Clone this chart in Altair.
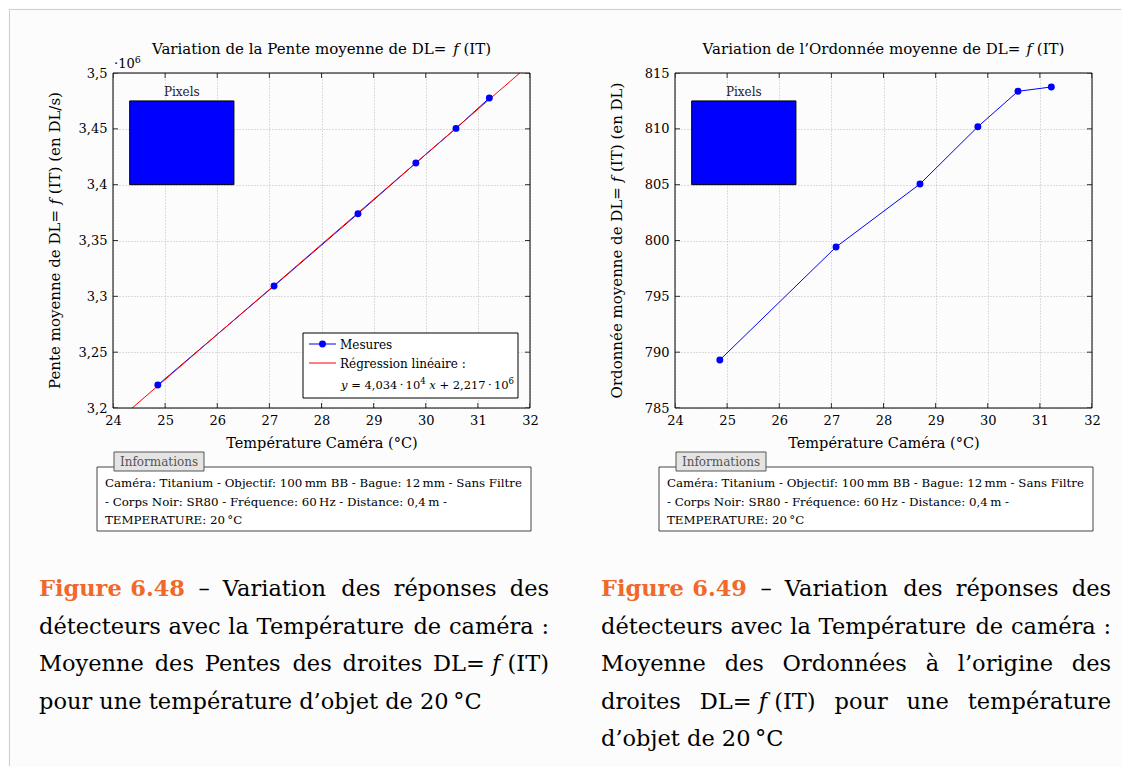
import altair as alt
import pandas as pd

FONT = "DejaVu Serif"

# ---------------- data ----------------
temperature = [24.86, 27.09, 28.70, 29.81, 30.58, 31.22]          # °C
pente = [3220600, 3309300, 3374000, 3419400, 3450400, 3477600]    # DL/s
ordonnee = [789.30, 799.42, 805.06, 810.19, 813.36, 813.75]       # DL
reg_slope = 4.034e4
reg_intercept = 2.217e6
reg_span = [24, 32]

x_ticks = [24, 25, 26, 27, 28, 29, 30, 31, 32]
pente_ticks = [3.20e6, 3.25e6, 3.30e6, 3.35e6, 3.40e6, 3.45e6, 3.50e6]
ordonnee_ticks = [785, 790, 795, 800, 805, 810, 815]

pixel_x = [24.32, 26.32]
pixel_pente = [3.400e6, 3.475e6]
pixel_ordonnee = [805.0, 812.5]

info_lines = [
    "Caméra: Titanium - Objectif: 100\u2009mm BB - Bague: 12\u2009mm - Sans Filtre",
    "- Corps Noir: SR80 - Fréquence: 60\u2009Hz - Distance: 0,4\u2009m -",
    "TEMPERATURE: 20\u2009°C",
]
# non-breaking spaces (\u00a0) join pieces that must not be stretched
caption_left = [
    "Figure\u00a06.48 – Variation des réponses des",
    "détecteurs avec la Température de caméra :",
    "Moyenne des Pentes des droites DL=\u00a0f\u00a0(IT)",
    "pour une température d’objet de 20\u2009°C",
]
caption_right = [
    "Figure\u00a06.49 – Variation des réponses des",
    "détecteurs avec la Température de caméra :",
    "Moyenne des Ordonnées à l’origine des",
    "droites DL=\u00a0f\u00a0(IT) pour une température",
    "d’objet de 20\u2009°C",
]

W, H = 417, 335
ONE = pd.DataFrame({"k": [0]})
ORANGE = "#f0692a"

# approximate advance widths of DejaVu Serif (per 1000 em), used for text layout
ADV = {" ": 318, "(": 390, ")": 390, ",": 318, "-": 338, ".": 318, ":": 337,
       "=": 838, "+": 838, "·": 318, "°": 500, "–": 500, "’": 318, "\u2009": 200,
       "/": 337}
ADV.update({d: 636 for d in "0123456789"})
ADV.update(dict(zip("ABCDEFGHIJKLMNOPQRSTUVWXYZ",
                    [722, 735, 765, 802, 730, 694, 799, 872, 395, 401, 747, 664, 1024,
                     875, 820, 673, 820, 753, 685, 667, 843, 722, 1028, 712, 660, 695])))
ADV.update(dict(zip("abcdefghijklmnopqrstuvwxyz",
                    [596, 640, 561, 640, 592, 370, 640, 644, 320, 310, 606, 320, 948,
                     644, 602, 640, 640, 478, 513, 402, 644, 565, 856, 564, 565, 530])))
ADV.update({"é": 592, "è": 592, "à": 596})


def tw(s, size, bold=False):
    w = sum(ADV.get(c, 600) for c in s) * size / 1000.0
    return w * 1.1 if bold else w


def txt(text, x, y, size=12, align="left", baseline="alphabetic", color="black",
        weight="normal", style="normal", line_height=None, angle=0):
    kw = dict(align=align, baseline=baseline, fontSize=size, color=color,
              fontWeight=weight, fontStyle=style, font=FONT)
    if line_height:
        kw["lineHeight"] = line_height
    if angle:
        kw["angle"] = angle
    return alt.Chart(ONE).mark_text(**kw).encode(
        x=alt.value(x), y=alt.value(y), text=alt.value(text))


def rich(pieces, x, y, align="left", vertical=False, baseline="alphabetic"):
    """pieces: (text, size, style, dy). Lays pieces end to end."""
    widths = [tw(t, s) for t, s, st, dy in pieces]
    total = sum(widths)
    start = -total / 2 if align == "center" else 0
    out, cum = [], start
    for (t, s, st, dy), w in zip(pieces, widths):
        lead = tw(t[:len(t) - len(t.lstrip(" "))], s)
        pos = cum + lead
        if vertical:
            out.append(txt(t.strip(" "), x, y - pos, size=s, style=st,
                           baseline="middle", angle=270))
        else:
            out.append(txt(t.strip(" "), x + pos, y + dy, size=s, style=st,
                           baseline=baseline))
        cum += w
    return out


def caption(lines, x0, y0, width=510, size=22.5, lh=37.5):
    out = []
    for i, line in enumerate(lines):
        groups = []
        for word in line.split(" "):
            subs = word.split("\u00a0")
            fig = subs[0] == "Figure"
            gap = tw(" ", size, bold=fig) * (1.0 if fig else 1.0)
            ws = [tw(s, size, bold=fig) for s in subs]
            groups.append((subs, ws, gap, fig, sum(ws) + gap * (len(subs) - 1)))
        last = i == len(lines) - 1
        total = sum(g[4] for g in groups)
        sp = tw(" ", size) if last else (width - total) / (len(groups) - 1)
        xx = x0
        y = y0 + i * lh
        for subs, ws, gap, fig, gw in groups:
            sx = xx
            for s, w in zip(subs, ws):
                if fig:
                    out.append(txt(s, sx, y, size=size, color=ORANGE, weight="bold"))
                elif s == "f":
                    out.append(txt(s, sx, y, size=size, style="italic"))
                else:
                    out.append(txt(s, sx, y, size=size))
                sx += w + gap
            xx += gw + sp
    return out


def hrule(x1, x2, y, color="black", width=1):
    return alt.Chart(ONE).mark_rule(color=color, strokeWidth=width).encode(
        x=alt.value(x1), x2=alt.value(x2), y=alt.value(y))


def vrule(x, y1, y2, color="black", width=1):
    return alt.Chart(ONE).mark_rule(color=color, strokeWidth=width).encode(
        x=alt.value(x), y=alt.value(y1), y2=alt.value(y2))


def box(x1, x2, y1, y2, fill="white", stroke="black", width=1, fill_opacity=1):
    return alt.Chart(ONE).mark_rect(fill=fill, stroke=stroke, strokeWidth=width,
                                    fillOpacity=fill_opacity).encode(
        x=alt.value(x1), x2=alt.value(x2), y=alt.value(y1), y2=alt.value(y2))


def panel(yvals, yticks, ydom, label_expr, ytitle_head, ytitle_tail, title_head,
          pix_y, cap_lines, legend=False, multiplier=False, frame=False):
    xs = alt.Scale(domain=[24, 32], nice=False, zero=False)
    ys = alt.Scale(domain=ydom, nice=False, zero=False)
    ex = alt.X("T:Q", scale=xs, axis=alt.Axis(
        values=x_ticks, format="d", grid=True, title="Température Caméra (°C)",
        titleX=W / 2, titleY=35, titleAlign="center", titleBaseline="middle",
        titleFontSize=14.5))
    ey = alt.Y("V:Q", scale=ys, axis=alt.Axis(
        values=yticks, labelExpr=label_expr, grid=True, title=""))

    layers = []
    if frame:
        layers.append(hrule(-104, 1008, -63.5, color="#cfcfcf"))
        layers.append(vrule(-103.5, -64, 693, color="#cfcfcf"))

    # "Pixels" blue rectangle (in data coordinates)
    pix = pd.DataFrame({"T": [pixel_x[0]], "T2": [pixel_x[1]],
                        "V": [pix_y[0]], "V2": [pix_y[1]],
                        "Tc": [(pixel_x[0] + pixel_x[1]) / 2]})
    layers.append(alt.Chart(pix).mark_rect(fill="#0000ff", stroke="black", strokeWidth=1)
                  .encode(x=ex, x2="T2:Q", y=ey, y2="V2:Q"))
    layers.append(alt.Chart(pix).mark_text(font=FONT, fontSize=12, baseline="middle",
                                           dy=-9, color="#222")
                  .encode(x=alt.X("Tc:Q", scale=xs), y=alt.Y("V2:Q", scale=ys),
                          text=alt.value("Pixels")))

    meas = pd.DataFrame({"T": temperature, "V": yvals})
    layers.append(alt.Chart(meas).mark_line(color="#0000ff", strokeWidth=1)
                  .encode(x=ex, y=ey))
    if legend:
        reg = pd.DataFrame({"T": reg_span})
        layers.append(alt.Chart(reg)
                      .transform_calculate(V=f"{reg_slope} * datum.T + {reg_intercept}")
                      .mark_line(color="#ff0000", strokeWidth=1, clip=True)
                      .encode(x=ex, y=ey))
    layers.append(alt.Chart(meas).mark_circle(color="#0000ff", size=48, opacity=1)
                  .encode(x=ex, y=ey))

    # inside ticks on all four sides
    xt = pd.DataFrame({"T": x_ticks * 2,
                       "V": [ydom[0]] * len(x_ticks) + [ydom[1]] * len(x_ticks)})
    yt = pd.DataFrame({"T": [24] * len(yticks) + [32] * len(yticks),
                       "V": yticks * 2})
    layers.append(alt.Chart(xt).mark_tick(orient="vertical", size=10, thickness=1,
                                          color="#333", clip=True, opacity=1)
                  .encode(x=ex, y=ey))
    layers.append(alt.Chart(yt).mark_tick(orient="horizontal", size=10, thickness=1,
                                          color="#333", clip=True, opacity=1)
                  .encode(x=ex, y=ey))

    # plot frame
    layers.append(box(0, W, 0, H, fill="white", stroke="black", fill_opacity=0))

    if legend:
        layers.append(box(190, 405, 260, 325))
        layers.append(hrule(196, 223, 271, color="#0000ff"))
        layers.append(alt.Chart(ONE).mark_circle(color="#0000ff", size=48, opacity=1)
                      .encode(x=alt.value(209.5), y=alt.value(271)))
        layers.append(txt("Mesures", 227, 275.5, size=12))
        layers.append(hrule(196, 223, 290, color="#ff0000"))
        layers.append(txt("Régression linéaire :", 227, 294.5, size=12))
        layers += rich([("y", 11.5, "italic", 0),
                        (" = 4,034\u2009·\u200910", 11.5, "normal", 0),
                        ("4", 8.5, "normal", -5),
                        (" x", 11.5, "italic", 0),
                        (" + 2,217\u2009·\u200910", 11.5, "normal", 0),
                        ("6", 8.5, "normal", -5)], 228, 315.5)

    if multiplier:
        layers += rich([("·10", 13, "normal", 0), ("6", 9.5, "normal", -5)], 1, -5)

    # title with italic f
    layers += rich([(title_head, 15, "normal", 0), (" f", 15, "italic", 0),
                    (" (IT)", 15, "normal", 0)], W / 2, -19, align="center")

    # y-axis title (vertical, italic f)
    layers += rich([(ytitle_head, 15, "normal", 0), (" f", 15, "italic", 0),
                    (ytitle_tail, 15, "normal", 0)], -58, H / 2, align="center",
                   vertical=True)

    # information box
    layers.append(box(-16, 418, 394, 458, fill="white", stroke="#444"))
    layers.append(txt(info_lines, -8, 414, size=11.8, line_height=18.7))
    layers.append(box(1, 91, 379, 398, fill="#e4e4e4", stroke="#555"))
    layers.append(txt("Informations", 46, 393, size=12, align="center", color="#555"))

    # caption, justified
    layers += caption(cap_lines, -74, 523)

    return alt.layer(*layers).properties(width=W, height=H)


left = panel(
    pente, pente_ticks, [3.2e6, 3.5e6],
    "replace(format(datum.value / 1000000, '.2~f'), '.', ',')",
    "Pente moyenne de DL=", " (IT) (en DL/s)",
    "Variation de la Pente moyenne de DL=",
    pixel_pente, caption_left, legend=True, multiplier=True, frame=True)

right = panel(
    ordonnee, ordonnee_ticks, [785, 815],
    "format(datum.value, 'd')",
    "Ordonnée moyenne de DL=", " (IT) (en DL)",
    "Variation de l’Ordonnée moyenne de DL=",
    pixel_ordonnee, caption_right)

chart = alt.hconcat(left, right, spacing=145, bounds="flush", padding=0,
                    background="#fcfcfc").configure(font=FONT).configure_view(
    stroke="transparent").configure_axis(
    labelFont=FONT, labelFontSize=13, labelColor="black", labelPadding=6,
    labelFlush=False, labelOverlap=False,
    titleFont=FONT, titleFontSize=15, titleFontWeight="normal", titleColor="black",
    gridColor="#bdbdbd", gridDash=[1, 2], gridWidth=1,
    ticks=False, tickSize=0, domain=False)

chart.save("out.html", embed_options={"renderer": "svg", "actions": False})
